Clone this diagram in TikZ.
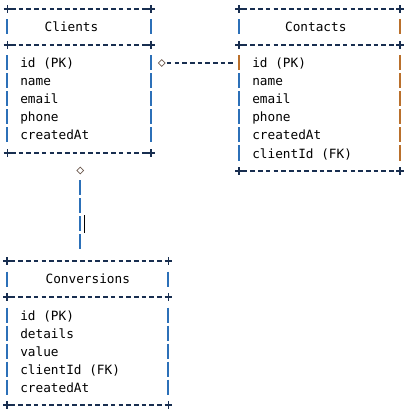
\documentclass[tikz,border=0pt]{standalone}
\usepackage{fontspec}
\setmonofont{DejaVu Sans Mono}
\usetikzlibrary{shapes.geometric}
\definecolor{edgenavy}{RGB}{24,46,80}
\definecolor{pipeblue}{RGB}{44,112,184}
\definecolor{pipeorange}{RGB}{186,112,44}
\definecolor{diagray}{RGB}{110,92,80}
\newcommand{\tabfont}{\ttfamily\fontsize{9.55pt}{11pt}\selectfont}
\tikzset{hrule/.style = {edgenavy, line width=0.95pt,
                         dash pattern=on 3.45pt off 2.325pt,
                         shorten <=2.8pt, shorten >=2.8pt}}
\tikzset{pipe/.style = {pipeblue, line width=1.25pt}}
\tikzset{pipeo/.style = {pipeorange, line width=1.25pt}}
\tikzset{cross/.pic = {\draw[edgenavy, line width=1pt]
                         (-3.6,0) -- (3.6,0) (0,-3.9) -- (0,3.9);}}
\tikzset{field/.style = {anchor=base west, inner sep=0, font=\tabfont}}
\tikzset{title/.style = {anchor=base, inner sep=0, font=\tabfont}}
\tikzset{link/.style = {diamond, draw=diagray, line width=0.6pt,
                        inner sep=0, minimum size=5.3pt}}

\begin{document}
\begin{tikzpicture}[x=0.75pt, y=-0.75pt]

      \useasboundingbox (0,0) rectangle (415,417);

      % Clients
      \coordinate (clients-nw) at (7.3,9);
      \coordinate (clients-ne) at (151,9);
      \coordinate (clients-w2) at (7.3,45);
      \coordinate (clients-e2) at (151,45);
      \coordinate (clients-sw) at (7.3,153);
      \coordinate (clients-se) at (151,153);

      % Contacts
      \coordinate (contacts-nw) at (239,9);
      \coordinate (contacts-ne) at (400,9);
      \coordinate (contacts-w2) at (239,45);
      \coordinate (contacts-e2) at (400,45);
      \coordinate (contacts-w3) at (239,63);
      \coordinate (contacts-sw) at (239,171);
      \coordinate (contacts-se) at (400,171);

      % Conversions
      \coordinate (conv-nw) at (7,261);
      \coordinate (conv-ne) at (168.3,261);
      \coordinate (conv-w2) at (7,297);
      \coordinate (conv-e2) at (168.3,297);
      \coordinate (conv-sw) at (7,405);
      \coordinate (conv-se) at (168.3,405);
      \coordinate (conv-top) at (80.3,261);

      \draw[hrule] (clients-nw) -- (clients-ne);
      \draw[hrule] (clients-w2) -- (clients-e2);
      \draw[hrule] (clients-sw) -- (clients-se);
      \draw[hrule] (contacts-nw) -- (contacts-ne);
      \draw[hrule] (contacts-w2) -- (contacts-e2);
      \draw[hrule] (contacts-sw) -- (contacts-se);
      \draw[hrule] (conv-nw) -- (conv-ne);
      \draw[hrule] (conv-w2) -- (conv-e2);
      \draw[hrule] (conv-sw) -- (conv-se);

      \foreach \c in {clients-nw, clients-ne, clients-w2, clients-e2, clients-sw, clients-se,
                      contacts-nw, contacts-ne, contacts-w2, contacts-e2, contacts-sw, contacts-se,
                      conv-nw, conv-ne, conv-w2, conv-e2, conv-sw, conv-se}
        \pic at (\c) {cross};

      \foreach \k in {1,3,4,5,6,7} {
        \draw[pipe] (7.3,{18*\k+1.5}) -- (7.3,{18*\k+16.5});
        \draw[pipe] (151,{18*\k+1.5}) -- (151,{18*\k+16.5});
      }
      \foreach \k in {1,4,5,6,7,8}
        \draw[pipe] (239,{18*\k+1.5}) -- (239,{18*\k+16.5});
      \draw[pipeo] (239,55.5) -- (239,70.5);
      \foreach \k in {1,3,4,5,6,7,8}
        \draw[pipeo] (400,{18*\k+1.5}) -- (400,{18*\k+16.5});
      \foreach \k in {15,17,18,19,20,21} {
        \draw[pipe] (7,{18*\k+1.5}) -- (7,{18*\k+16.5});
        \draw[pipe] (168.3,{18*\k+1.5}) -- (168.3,{18*\k+16.5});
      }

      \node[title] (clients-title) at (71.5,31.5) {Clients};
      \node[field] (clients-id)        at (20,68)  {id (PK)};
      \node[field] (clients-name)      at (20,86)  {name};
      \node[field] (clients-email)     at (20,104) {email};
      \node[field] (clients-phone)     at (20,122) {phone};
      \node[field] (clients-createdat) at (20,140) {createdAt};

      \node[title] (contacts-title) at (315.8,31.5) {Contacts};
      \node[field] (contacts-id)        at (252,68)  {id (PK)};
      \node[field] (contacts-name)      at (252,86)  {name};
      \node[field] (contacts-email)     at (252,104) {email};
      \node[field] (contacts-phone)     at (252,122) {phone};
      \node[field] (contacts-createdat) at (252,140) {createdAt};
      \node[field] (contacts-clientid)  at (252,158) {clientId (FK)};

      \node[title] (conv-title) at (87.8,283.5) {Conversions};
      \node[field] (conv-id)        at (20,320) {id (PK)};
      \node[field] (conv-details)   at (20,338) {details};
      \node[field] (conv-value)     at (20,356) {value};
      \node[field] (conv-clientid)  at (20,374) {clientId (FK)};
      \node[field] (conv-createdat) at (20,392) {createdAt};

      % relations
      \node[link] (clients-to-contacts) at (161.7,63) {};
      \draw[edgenavy, line width=0.95pt, dash pattern=on 3.45pt off 2.325pt,
            shorten <=0.9pt, shorten >=2.8pt]
        (clients-to-contacts.east) -- (contacts-w3);

      \node[link] (clients-to-conv) at (80.3,170.5) {};
      \draw[pipe, line width=1.4pt, dash pattern=on 11.25pt off 2.25pt,
            shorten <=4.4pt, shorten >=7.9pt]
        (clients-to-conv.south) -- (conv-top);
      \draw[black, line width=0.8pt] (84.3,215) -- (84.3,232.7);

\end{tikzpicture}
\end{document}
